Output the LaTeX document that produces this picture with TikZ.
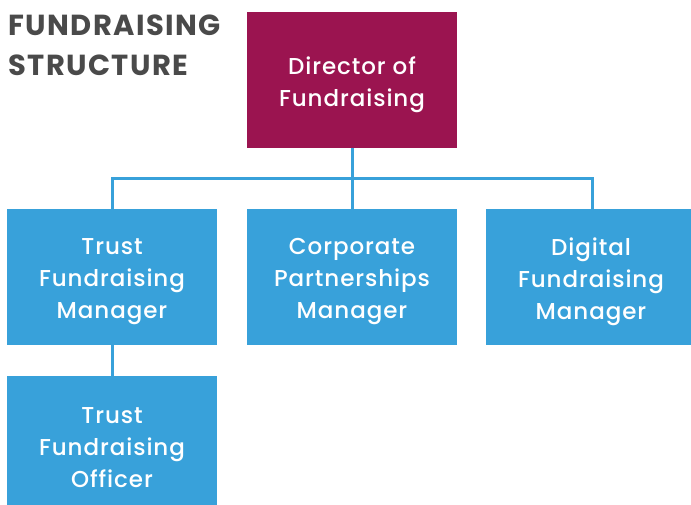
\documentclass[tikz,border=0pt]{standalone}
\usepackage{fontspec}
\setmainfont{Poppins}
\newfontfamily\boxfont{Poppins}[UprightFont={* Medium},LetterSpace=4]
\newfontfamily\titlefont{Poppins}[UprightFont={* Bold},LetterSpace=5]
\definecolor{maroon}{HTML}{9B1450}
\definecolor{sky}{HTML}{38A1DA}
\definecolor{titlegray}{HTML}{4A4A4A}
\begin{document}
\begin{tikzpicture}[x=1pt,y=-1pt,
  box/.style={fill=none,draw=none,text=white,align=center,font=\boxfont\fontsize{23}{32}\selectfont,inner sep=0pt},
  link/.style={draw=sky,line width=3pt}]
\useasboundingbox (0,0) rectangle (691,505);
\fill[maroon] (247,12) rectangle (457,148);
\node[box] (dir) at (352,85) {Director of\\Fundraising};
\coordinate (dirb) at (352,148);
\fill[sky] (7,209) rectangle (217,345);
\node[box] (tfm) at (112,282) {Trust\\Fundraising\\Manager};
\fill[sky] (247,209) rectangle (457,345);
\node[box] (cpm) at (352,282) {Corporate\\Partnerships\\Manager};
\fill[sky] (486,209) rectangle (691,345);
\node[box] (dfm) at (591,282) {Digital\\Fundraising\\Manager};
\fill[sky] (7,376) rectangle (217,505);
\node[box] (tfo) at (112,448) {Trust\\Fundraising\\Officer};
\coordinate (bus) at (352,179);
\draw[link] (dirb) -- (bus);
\draw[link] (112,209) -- (112,179) -- (592,179) -- (592,209);
\draw[link] (bus) -- (352,209);
\draw[link] (112,345) -- (112,376);
\node[anchor=north west,align=left,text=titlegray,font=\titlefont\fontsize{29}{40}\selectfont,inner sep=0pt] (title) at (8,15) {FUNDRAISING\\STRUCTURE};
\end{tikzpicture}
\end{document}
